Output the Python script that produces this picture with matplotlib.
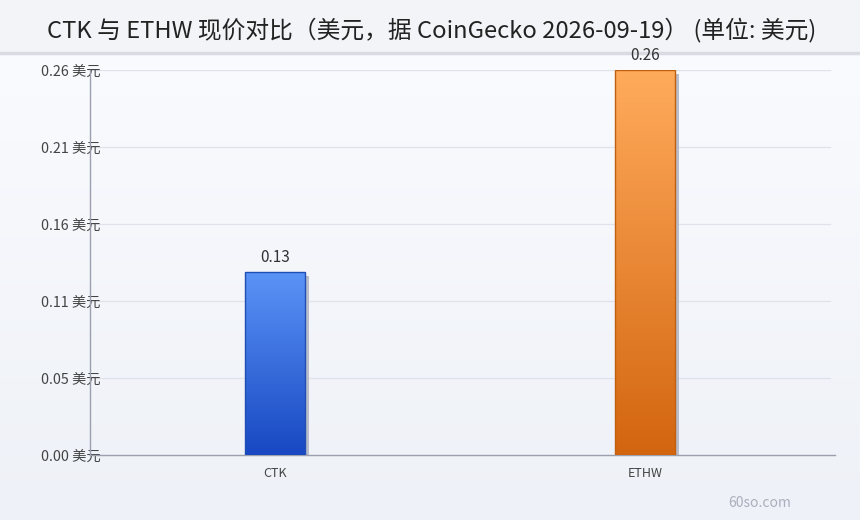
import matplotlib
matplotlib.use("Agg")
import matplotlib.pyplot as plt
import matplotlib.patheffects as pe
from matplotlib.lines import Line2D
from matplotlib.colors import LinearSegmentedColormap
import numpy as np

plt.rcParams['font.family'] = ['Noto Sans CJK SC', 'DejaVu Sans']

coins = ["CTK", "ETHW"]
prices = [0.1255, 0.264]
top_colors = ["#5b94f7", "#ffab5c"]
bottom_colors = ["#1848c2", "#d3650f"]
edge_colors = ["#1f4fb5", "#c0600f"]
title = "CTK 与 ETHW 现价对比（美元，据 CoinGecko 2026-09-19） (单位: 美元)"
unit = "美元"

fig = plt.figure(figsize=(8.6, 5.2), dpi=100)

# background gradient + header band
bg = fig.add_axes([0, 0, 1, 1], zorder=-10)
grad = np.linspace(0, 1, 256).reshape(-1, 1)
bg_cmap = LinearSegmentedColormap.from_list("bg", ["#fbfcff", "#eef1f7"])
bg.imshow(grad, aspect="auto", cmap=bg_cmap, extent=[0, 1, 0, 1])
bg.axhspan(1 - 53 / 520, 1, color="#f3f4f8")
bg.axhline(1 - 53 / 520, color="#d9dbe3", lw=2.5)
bg.set_xlim(0, 1)
bg.set_ylim(0, 1)
bg.axis("off")
fig.text(0.502, 1 - 30 / 520, title, ha="center", va="center",
         fontsize=17.1, color="#222222", zorder=-5)

ax = fig.add_axes([90 / 860, 1 - 455 / 520, 745 / 860, 385 / 520])
ax.patch.set_alpha(0)
x = np.arange(len(coins))
width = 0.162
ymax = max(prices)

ticks = np.linspace(0, ymax, 6)
for t in ticks[1:]:
    ax.axhline(t, xmax=0.993, color="#dfe2ea", lw=0.9, zorder=0)
ax.set_yticks(ticks)
ax.set_yticklabels([f"{t:.2f} {unit}" for t in ticks], fontsize=10.3, color="#444444")
ax.tick_params(axis="y", length=0, pad=-7.5)
ax.set_xticks(x)
ax.set_xticklabels(coins, fontsize=9, color="#444444")
ax.tick_params(axis="x", length=0, pad=8.5)
for s in ["top", "right"]:
    ax.spines[s].set_visible(False)
for s in ["left", "bottom"]:
    ax.spines[s].set_color("#9aa0ad")
    ax.spines[s].set_linewidth(1)

bars = ax.bar(x, prices, width, color="#cccccc", zorder=2,
              path_effects=[pe.SimplePatchShadow(offset=(3, -3),
                                                 shadow_rgbFace="#b3b7c5", alpha=0.9),
                            pe.Normal()])
for i, b in enumerate(bars):
    cmap = LinearSegmentedColormap.from_list("b%d" % i, [bottom_colors[i], top_colors[i]])
    x0 = b.get_x()
    im = ax.imshow(np.linspace(0, 1, 256).reshape(-1, 1), aspect="auto", cmap=cmap,
                   origin="lower", extent=[x0, x0 + width, 0, prices[i]], zorder=3)
    im.set_clip_path(b)
ax.bar(x, prices, width, facecolor="none", edgecolor=edge_colors, lw=1, zorder=4)
ax.set_xlim(-0.5, 1.514)
ax.set_ylim(0, ymax)

for xi, v in zip(x, prices):
    ax.annotate(f"{v:.2f}", (xi, v), xytext=(0, 4.5), textcoords="offset points",
                ha="center", va="bottom", fontsize=11, color="#333333",
                annotation_clip=False, zorder=6)

fig.text(760 / 860, 1 - 503 / 520, "60so.com", ha="center", va="center",
         fontsize=10, color="#a9afbd")

fig.savefig("out.png", dpi=100)
